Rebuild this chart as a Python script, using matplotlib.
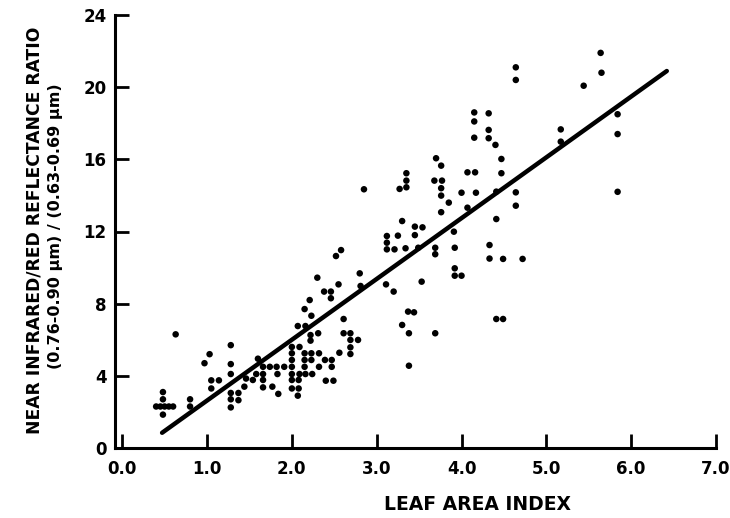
import numpy as np
import matplotlib
matplotlib.use("Agg")
import matplotlib.pyplot as plt

# leaf area index (x) and NIR/red ratio (y)
lai = [0.40, 0.45, 0.50, 0.55, 0.60, 0.48, 0.48, 0.48, 0.63,
       0.80, 0.80, 0.97, 1.03, 1.05, 1.05, 1.14,
       1.28, 1.28, 1.28, 1.28, 1.28, 1.28, 1.37, 1.37, 1.44, 1.46,
       1.54, 1.60,
       1.58, 1.66, 1.83, 2.00, 2.09, 2.16, 2.24,
       1.66, 1.74, 1.82, 1.91, 2.00, 2.15, 2.32, 2.47,
       1.66, 2.00, 2.08, 2.40, 2.49,
       1.66, 1.77, 2.00, 2.08, 1.84, 2.07,
       2.00, 2.15, 2.23, 2.39, 2.47,
       2.00, 2.15, 2.23, 2.32, 2.69, 2.56,
       2.00, 2.09, 2.69, 2.22, 2.69, 2.78,
       2.22, 2.31, 2.61, 2.69, 2.07, 2.16, 2.61,
       2.23, 2.15, 2.21, 2.38, 2.46, 2.46,
       2.30, 2.55, 2.52, 2.58, 2.80, 2.81, 2.85,
       3.11, 3.20, 3.12, 3.12, 3.12, 3.21, 3.25, 3.27,
       3.30, 3.30, 3.34, 3.35, 3.35, 3.35,
       3.37, 3.44, 3.38, 3.38,
       3.45, 3.45, 3.54, 3.49, 3.53,
       3.69, 3.69, 3.69,
       3.70, 3.76, 3.68, 3.77, 3.76, 3.76, 3.76, 3.85,
       3.91, 3.92, 3.92, 3.92, 4.00,
       4.00, 4.07, 4.16, 4.17, 4.07,
       4.15, 4.15, 4.15, 4.32, 4.32, 4.32,
       4.40, 4.41, 4.41, 4.33, 4.33, 4.49, 4.72,
       4.41, 4.49, 4.47, 4.47,
       4.64, 4.64, 4.64, 4.64,
       5.17, 5.17, 5.44, 5.64, 5.65,
       5.84, 5.84, 5.84]
ratio = [2.3, 2.3, 2.3, 2.3, 2.3, 3.1, 2.7, 1.85, 6.3,
         2.7, 2.3, 4.7, 5.2, 3.75, 3.3, 3.75,
         5.7, 4.65, 4.1, 3.05, 2.7, 2.25, 3.05, 2.65, 3.4, 3.85,
         3.77, 4.95,
         4.1, 4.1, 4.1, 4.1, 4.1, 4.1, 4.1,
         4.5, 4.5, 4.5, 4.5, 4.5, 4.5, 4.5, 4.5,
         3.77, 3.77, 3.77, 3.73, 3.73,
         3.36, 3.4, 3.3, 3.3, 3.0, 2.9,
         4.88, 4.88, 4.88, 4.88, 4.88,
         5.25, 5.25, 5.25, 5.25, 5.21, 5.28,
         5.6, 5.6, 5.58, 5.95, 5.99, 5.99,
         6.26, 6.36, 6.36, 6.36, 6.76, 6.76, 7.15,
         7.33, 7.7, 8.2, 8.67, 8.67, 8.3,
         9.44, 9.07, 10.64, 10.97, 9.68, 8.98, 14.34,
         9.07, 8.67, 11.75, 11.38, 11.01, 11.01, 11.77, 14.36,
         12.58, 6.82, 11.07, 15.23, 14.82, 14.45,
         7.56, 7.52, 6.36, 4.56,
         12.27, 11.8, 12.23, 11.1, 9.22,
         11.1, 10.74, 6.36,
         16.06, 15.65, 14.82, 14.82, 14.4, 13.99, 13.07, 13.6,
         11.99, 11.1, 9.96, 9.55, 9.55,
         14.15, 15.28, 15.28, 14.15, 13.32,
         18.6, 18.1, 17.2, 18.55, 17.63, 17.17,
         16.8, 14.21, 12.69, 11.25, 10.5, 10.48, 10.48,
         7.15, 7.15, 16.02, 15.23,
         21.1, 20.4, 14.17, 13.43,
         17.66, 16.98, 20.08, 21.9, 20.8,
         18.5, 17.4, 14.2]

# regression line
slope = 3.37
intercept = -0.74
fit_range = [0.47, 6.42]

x_ticks = [0, 1, 2, 3, 4, 5, 6, 7]
y_ticks = [0, 4, 8, 12, 16, 20, 24]

plt.rcParams['font.family'] = ['DejaVu Sans']
plt.rcParams['font.weight'] = 'bold'

fig = plt.figure(figsize=(7.30, 5.18), dpi=100)
ax = fig.add_axes([115/730, 70/518, 601/730, 433/518])

ax.scatter(lai, ratio, s=22, color='black', edgecolors='none', zorder=3)
fx = np.array(fit_range)
ax.plot(fx, slope*fx + intercept, color='black', lw=3.2, solid_capstyle='round')

ax.set_xlim(-0.085, 7.0)
ax.set_ylim(0, 24)
ax.set_xticks(x_ticks)
ax.set_xticklabels([f"{v:.1f}" for v in x_ticks])
ax.set_yticks(y_ticks)

for s in ['top', 'right']:
    ax.spines[s].set_visible(False)
for s in ['left', 'bottom']:
    ax.spines[s].set_linewidth(2.2)
ax.tick_params(direction='in', length=10, width=2, labelsize=12)
ax.tick_params(axis='x', pad=9)
ax.tick_params(axis='y', pad=6)

fig.text(478/730, 1 - 505/518, "LEAF AREA INDEX", ha='center', va='center',
         fontsize=13.5, fontweight='bold')
fig.text(35/730, 1 - 230/518, "NEAR INFRARED/RED REFLECTANCE RATIO",
         rotation=90, ha='center', va='center', fontsize=12.3, fontweight='bold')
fig.text(56/730, 1 - 226/518, "(0.76-0.90 \u03bcm) / (0.63-0.69 \u03bcm)",
         rotation=90, ha='center', va='center', fontsize=11.5, fontweight='bold')

fig.savefig("out.png", dpi=100)
